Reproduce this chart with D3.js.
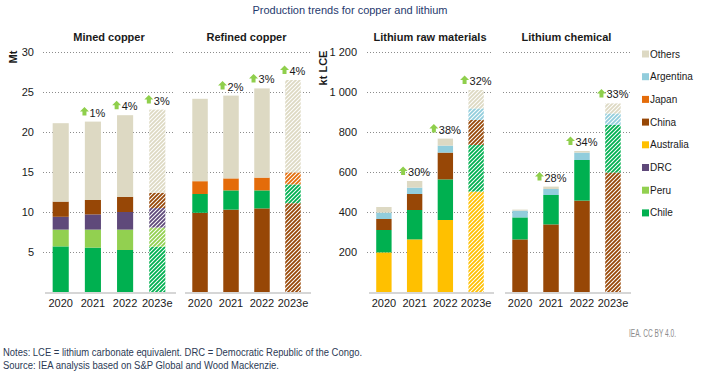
<!DOCTYPE html>
<html lang="en">
<head>
<meta charset="UTF-8" />
<script src="https://d3js.org/d3.v7.min.js"></script>
<title>Production trends for copper and lithium</title>
<style>
    body { margin: 0; background: #fff; }
    text { font-family: "Liberation Sans", Arial, sans-serif; }
    .grid line { stroke: #8c8c8c; stroke-dasharray: 1,2; stroke-width: 1; }
    .base { stroke: #c8c8c8; stroke-width: 1.5; }
    .tick { font-size: 11px; fill: #1a1a1a; }
    .ptitle { font-size: 11px; font-weight: bold; fill: #1a1a1a; }
    .growth { font-size: 11px; fill: #1a1a1a; }
    .legend { font-size: 10px; fill: #1a1a1a; }
    .note { font-family: "Liberation Sans Narrow", "Liberation Sans", sans-serif; font-size: 10px; fill: #2b3a55; }
</style>
</head>
<body>
<svg id="chart" width="701" height="372"></svg>
<script>
// categories
const years = ["2020", "2021", "2022", "2023e"];

// mined copper (Mt)
const minedChile  = [5.7, 5.55, 5.25, 5.65];
const minedPeru   = [2.1, 2.25, 2.55, 2.4];
const minedDRC    = [1.6, 1.9, 2.2, 2.45];
const minedChina  = [1.9, 1.8, 1.9, 1.9];
const minedOthers = [9.8, 9.8, 10.2, 10.4];
const minedGrowth = [null, "1%", "4%", "3%"];

// refined copper (Mt)
const refinedChina  = [9.9, 10.3, 10.45, 11.1];
const refinedChile  = [2.35, 2.4, 2.25, 2.35];
const refinedJapan  = [1.6, 1.5, 1.6, 1.5];
const refinedOthers = [10.3, 10.35, 11.15, 11.55];
const refinedGrowth = [null, "2%", "3%", "4%"];

// lithium raw materials (kt LCE)
const rawAustralia = [198, 263, 360, 502];
const rawChile     = [112, 147, 203, 233];
const rawChina     = [55, 80, 134, 125];
const rawArgentina = [32, 32, 35, 58];
const rawOthers    = [28, 33, 35, 92];
const rawGrowth    = [null, "30%", "38%", "32%"];

// lithium chemical (kt LCE)
const chemChina     = [263, 338, 457, 597];
const chemChile     = [110, 147, 203, 238];
const chemArgentina = [34, 30, 37, 58];
const chemOthers    = [5, 12, 8, 50];
const chemGrowth    = [null, "28%", "34%", "33%"];

const legendItems = ["Others", "Argentina", "Japan", "China", "Australia", "DRC", "Peru", "Chile"];
const colors = {
    Others: "#ddd9c3", Argentina: "#92cddc", Japan: "#e46c0a", China: "#974706",
    Australia: "#ffc000", DRC: "#5f497a", Peru: "#92d050", Chile: "#00b050"
};

const svg = d3.select("#chart");
const defs = svg.append("defs");

// hatch patterns for estimates
legendItems.forEach(k => {
    const p = defs.append("pattern")
        .attr("id", "hatch-" + k)
        .attr("patternUnits", "userSpaceOnUse")
        .attr("width", 4).attr("height", 4);
    p.append("rect").attr("width", 4).attr("height", 4).attr("fill", "#fff");
    p.append("path")
        .attr("d", "M-1,1 l2,-2 M0,4 l4,-4 M3,5 l2,-2")
        .attr("stroke", colors[k])
        .attr("stroke-width", 1.8);
});

const yCopper = d3.scaleLinear().domain([0, 30]).range([292, 52]);
const yLith = d3.scaleLinear().domain([0, 1200]).range([292, 52]);
const lithFmt = v => d3.format(",")(v).replace(",", " ");

const panels = [
    { title: "Mined copper", x0: 43, x1: 175, y: yCopper, growth: minedGrowth,
      series: [["Chile", minedChile], ["Peru", minedPeru], ["DRC", minedDRC], ["China", minedChina], ["Others", minedOthers]] },
    { title: "Refined copper", x0: 183, x1: 310, y: yCopper, growth: refinedGrowth,
      series: [["China", refinedChina], ["Chile", refinedChile], ["Japan", refinedJapan], ["Others", refinedOthers]] },
    { title: "Lithium raw materials", x0: 367, x1: 493, y: yLith, growth: rawGrowth,
      series: [["Australia", rawAustralia], ["Chile", rawChile], ["China", rawChina], ["Argentina", rawArgentina], ["Others", rawOthers]] },
    { title: "Lithium chemical", x0: 503, x1: 630, y: yLith, growth: chemGrowth,
      series: [["China", chemChina], ["Chile", chemChile], ["Argentina", chemArgentina], ["Others", chemOthers]] }
];

// y tick labels
svg.append("g").selectAll("text")
    .data(yCopper.ticks(6).filter(d => d > 0))
    .join("text")
    .attr("class", "tick")
    .attr("x", 34).attr("y", d => yCopper(d)).attr("dy", "0.35em")
    .attr("text-anchor", "end")
    .text(d => d);

svg.append("g").selectAll("text")
    .data(yLith.ticks(6).filter(d => d > 0))
    .join("text")
    .attr("class", "tick")
    .attr("x", 357).attr("y", d => yLith(d)).attr("dy", "0.35em")
    .attr("text-anchor", "end")
    .text(d => lithFmt(d));

svg.append("text").attr("class", "ptitle")
    .attr("transform", "translate(17,57) rotate(-90)")
    .attr("text-anchor", "middle").text("Mt");
svg.append("text").attr("class", "ptitle")
    .attr("transform", "translate(327,68) rotate(-90)")
    .attr("text-anchor", "middle").text("kt LCE");

function arrow(g, x, y) {
    // small green up arrow, (x,y) = bottom-left
    g.append("path")
        .attr("d", `M${x + 2},${y} h4 v-4 h2.5 l-4.5,-4.5 l-4.5,4.5 h2.5 z`)
        .attr("fill", "#8fcf4c");
}

panels.forEach(p => {
    const g = svg.append("g");
    const x = d3.scaleBand().domain(years).range([p.x0, p.x1])
        .paddingInner(0.5).paddingOuter(0.3);

    g.append("g").attr("class", "grid").selectAll("line")
        .data(p.y.ticks(6).filter(d => d > 0))
        .join("line")
        .attr("x1", p.x0).attr("x2", p.x1)
        .attr("y1", d => Math.round(p.y(d)) + 0.5)
        .attr("y2", d => Math.round(p.y(d)) + 0.5);

    const rows = years.map((yr, i) => {
        const r = { year: yr };
        p.series.forEach(([k, arr]) => r[k] = arr[i]);
        return r;
    });
    const keys = p.series.map(s => s[0]);
    const stacked = d3.stack().keys(keys)(rows);

    g.selectAll("g.layer")
        .data(stacked)
        .join("g").attr("class", "layer")
        .selectAll("rect")
        .data(d => d.map(v => ({ key: d.key, v })))
        .join("rect")
        .attr("x", d => x(d.v.data.year))
        .attr("width", x.bandwidth())
        .attr("y", d => p.y(d.v[1]))
        .attr("height", d => p.y(d.v[0]) - p.y(d.v[1]))
        .attr("fill", d => d.v.data.year === "2023e" ? `url(#hatch-${d.key})` : colors[d.key]);

    g.append("line").attr("class", "base")
        .attr("x1", p.x0 + 2).attr("x2", p.x1 + 1)
        .attr("y1", 293).attr("y2", 293);

    // x labels
    g.selectAll("text.xl")
        .data(years)
        .join("text")
        .attr("class", "tick xl")
        .attr("x", d => x(d) + x.bandwidth() / 2)
        .attr("y", 307)
        .attr("text-anchor", "middle")
        .text(d => d);

    // panel title
    g.append("text").attr("class", "ptitle")
        .attr("x", (p.x0 + p.x1) / 2).attr("y", 41)
        .attr("text-anchor", "middle")
        .text(p.title);

    // growth labels
    years.forEach((yr, i) => {
        const lab = p.growth[i];
        if (!lab) return;
        const top = d3.sum(p.series, s => s[1][i]);
        const cx = x(yr) + x.bandwidth() / 2;
        const by = p.y(top) - 5;
        const t = g.append("text").attr("class", "growth")
            .attr("y", by)
            .text(lab);
        const w = t.node().getComputedTextLength();
        const left = cx - (w + 9) / 2;
        t.attr("x", left + 9);
        arrow(g, left, by - 1);
    });
});

// legend
const leg = svg.append("g").selectAll("g")
    .data(legendItems)
    .join("g")
    .attr("transform", (d, i) => `translate(642,${54 + i * 22.7})`);
leg.append("rect").attr("x", 0).attr("y", -3.5).attr("width", 7).attr("height", 7)
    .attr("fill", d => colors[d]);
leg.append("text").attr("class", "legend").attr("x", 8).attr("dy", "0.35em").text(d => d);

// title and notes
svg.append("text")
    .attr("x", 350).attr("y", 14)
    .attr("text-anchor", "middle")
    .style("font-size", "11px").style("fill", "#1f3a6e")
    .text("Production trends for copper and lithium");

svg.append("text").attr("class", "note")
    .attr("x", 676).attr("y", 337).attr("text-anchor", "end")
    .attr("textLength", 47).attr("lengthAdjust", "spacingAndGlyphs")
    .style("fill", "#8c8c8c")
    .text("IEA. CC BY 4.0.");
svg.append("text").attr("class", "note")
    .attr("x", 3).attr("y", 356)
    .attr("textLength", 359).attr("lengthAdjust", "spacingAndGlyphs")
    .text("Notes: LCE = lithium carbonate equivalent. DRC = Democratic Republic of the Congo.");
svg.append("text").attr("class", "note")
    .attr("x", 3).attr("y", 369)
    .attr("textLength", 276).attr("lengthAdjust", "spacingAndGlyphs")
    .text("Source: IEA analysis based on S&P Global and Wood Mackenzie.");
</script>
</body>
</html>
